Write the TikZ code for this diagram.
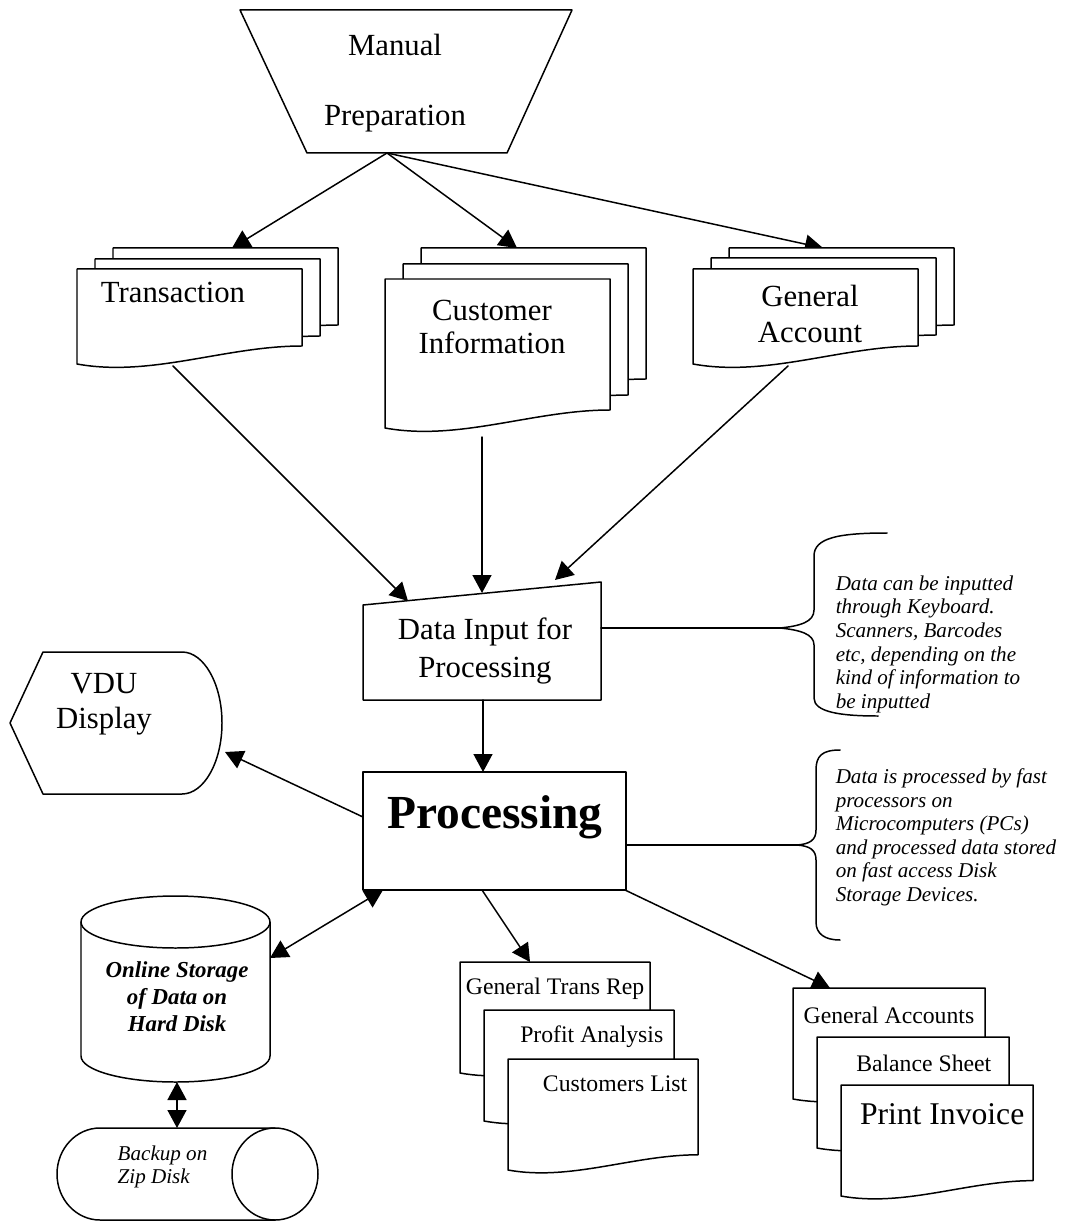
\documentclass[tikz,border=0pt]{standalone}
\usepackage{fontspec}
\setmainfont{Liberation Serif}
\usetikzlibrary{arrows.meta}
\tikzset{
  every picture/.style={line join=round, line cap=round, line width=0.85pt, >={Triangle[length=0.36cm,width=0.38cm]}},
  sheet/.style={draw, fill=white},
  lbl/.style={font=\fontsize{17.5}{20}\selectfont, align=center, inner sep=0pt},
  note/.style={font=\fontsize{12}{13.4}\selectfont\itshape, align=left, anchor=north west, inner sep=0pt},
  rep/.style={font=\fontsize{13.5}{16}\selectfont, anchor=east, inner sep=0pt},
}
% one page of a stack: left, top, width, left height
\newcommand{\docsheet}[4]{%
  \draw[sheet] (#1,#2) -- (#1,#2+#4)
    .. controls (#1+0.33*#3,#2+#4+0.06*#3) and (#1+0.66*#3,#2+#4-0.08*#3)
    .. (#1+#3,#2+#4-0.08*#3) -- (#1+#3,#2) -- cycle;}

\begin{document}
\begin{tikzpicture}[x=0.02cm,y=-0.02cm]
\useasboundingbox (0,0) rectangle (1066,1222);
\coordinate (mp-out) at (387,153);
\coordinate (tr-in) at (232,248);
\coordinate (cu-in) at (517,248);
\coordinate (ga-in) at (823,248);
\coordinate (tr-out) at (173,366);
\coordinate (cu-out) at (482,437);
\coordinate (ga-out) at (788,366);
\coordinate (di-l) at (408,601);
\coordinate (di-m) at (482,593);
\coordinate (di-r) at (555,580);
\coordinate (di-s) at (483,700);
\coordinate (di-e) at (601,628);
\coordinate (pr-n) at (483,772);
\coordinate (pr-w) at (363,817);
\coordinate (pr-e) at (626,845);
\coordinate (pr-sw) at (383,890);
\coordinate (pr-s) at (482,890);
\coordinate (pr-se) at (625,890);
\coordinate (br1) at (780,628);
\coordinate (br2) at (797,845);
\coordinate (vdu-in) at (225,752);
\coordinate (hd-e) at (270,958);
\coordinate (hd-s) at (177,1082);
\coordinate (zip-n) at (177,1128);
\coordinate (r1-in) at (530,962);
\coordinate (r2-in) at (830,988);

\draw (240,10) -- (572,10) -- (507,153) -- (307,153) -- cycle;
\node[lbl, font=\fontsize{17.5}{40}\selectfont] (manual) at (395,83) {Manual\\Preparation};

\draw[->] (mp-out) -- (tr-in);
\draw[->] (mp-out) -- (cu-in);
\draw[->] (mp-out) -- (ga-in);

\docsheet{113}{248}{225}{95}
\docsheet{95}{259}{225}{95}
\docsheet{77}{269}{225}{95}
\node[lbl] (trans) at (173,292) {Transaction};

\docsheet{421}{248}{225}{149}
\docsheet{403}{264}{225}{149}
\docsheet{385}{279}{225}{149}
\node[lbl, font=\fontsize{17.5}{19}\selectfont] (cust) at (492,327) {Customer\\Information};

\docsheet{729}{248}{225}{95}
\docsheet{711}{258}{225}{95}
\docsheet{693}{269}{225}{95}
\node[lbl, font=\fontsize{17.5}{20}\selectfont] (genacc) at (810,314) {General\\Account};

\draw (363,605) -- (601,582) -- (601,700) -- (363,700) -- cycle;
\node[lbl, font=\fontsize{17.5}{21.5}\selectfont] (datain) at (485,651) {Data Input for\\Processing};

\draw[->] (tr-out) -- (di-l);
\draw[->] (cu-out) -- (di-m);
\draw[->] (ga-out) -- (di-r);

\node[draw, minimum width=5.26cm, minimum height=2.36cm] (proc) at (494.5,831) {};
\node[inner sep=0pt, font=\fontsize{27}{30}\selectfont\bfseries] (proctext) at (495,817) {Processing};
\draw[->] (di-s) -- (pr-n);

\draw (887,533) .. controls (838,533) and (814,538) .. (814,556) -- (814,610)
  .. controls (814,622) and (800,626) .. (br1) .. controls (800,630) and (814,634) .. (814,645)
  -- (814,698) .. controls (814,712) and (840,716) .. (878,716);
\draw (di-e) -- (br1);
\node[note] (note1) at (835,575) {Data can be inputted\\through Keyboard.\\Scanners, Barcodes\\etc, depending on the\\kind of information to\\be inputted};

\draw (840,750) .. controls (822,750) and (816,756) .. (816,770) -- (816,830)
  .. controls (816,840) and (810,844) .. (br2) .. controls (810,846) and (816,850) .. (816,860)
  -- (816,922) .. controls (816,934) and (825,940) .. (840,940);
\draw (pr-e) -- (br2);
\node[note] (note2) at (835,768) {Data is processed by fast\\processors on\\Microcomputers (PCs)\\and processed data stored\\on fast access Disk\\Storage Devices.};

\draw (10,723) -- (43,652) -- (182,652) .. controls (204,652) and (222,684) .. (222,723)
  .. controls (222,762) and (204,794) .. (182,794) -- (43,794) -- cycle;
\node[lbl, font=\fontsize{17.5}{20}\selectfont] (vdu) at (104,704) {VDU\\Display};
\draw[->] (pr-w) -- (vdu-in);

\draw (81,922) -- (81,1056) arc[start angle=180, end angle=0, x radius=94.5, y radius=26] -- (270,922);
\draw (175.5,922) ellipse [x radius=94.5, y radius=26];
\node[lbl, font=\fontsize{13}{15.3}\selectfont\bfseries\itshape] (store) at (177,997) {Online Storage\\of Data on\\Hard Disk};
\draw[<->] (hd-e) -- (pr-sw);

\draw (275,1128) -- (100,1128) arc[start angle=270, end angle=90, x radius=43, y radius=46] -- (275,1220);
\draw (275,1174) ellipse [x radius=43, y radius=46];
\node[note, anchor=west, font=\fontsize{12}{13}\selectfont\itshape] (zip) at (117,1167) {Backup on\\Zip Disk};
\draw[<->] (hd-s) -- (zip-n);

\draw[->] (pr-s) -- (r1-in);
\docsheet{460}{962}{190}{111}
\docsheet{484}{1010}{190}{111}
\docsheet{508}{1059}{190}{111}
\node[rep] (transrep) at (645,989) {General Trans Rep};
\node[rep] (profit) at (664,1037) {Profit Analysis};
\node[rep] (custlist) at (688,1084) {Customers List};

\draw[->] (pr-se) -- (r2-in);
\docsheet{793}{988}{192}{111}
\docsheet{817}{1037}{192}{111}
\docsheet{841}{1085}{192}{111}
\node[rep] (genaccs) at (975,1015) {General Accounts};
\node[rep] (balance) at (992,1063) {Balance Sheet};
\node[rep, font=\fontsize{18}{20}\selectfont] (invoice) at (1025,1114) {Print Invoice};
\end{tikzpicture}
\end{document}
